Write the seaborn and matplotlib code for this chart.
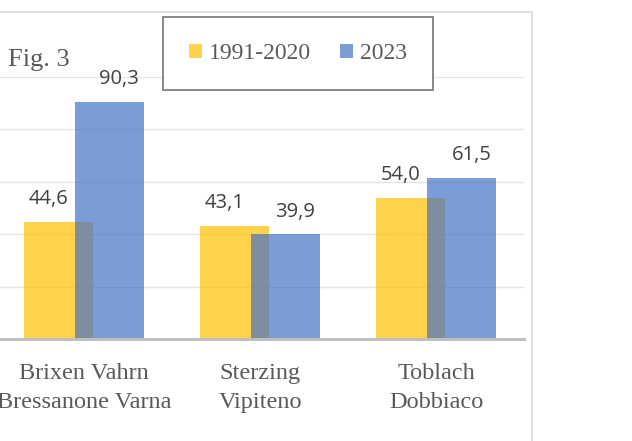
import matplotlib
matplotlib.use("Agg")
import matplotlib.pyplot as plt
from matplotlib.patches import Rectangle
import seaborn as sns
import pandas as pd

# data
stations = ["Brixen Vahrn\nBressanone Varna", "Sterzing\nVipiteno", "Toblach\nDobbiaco"]
periods = ["1991-2020", "2023"]
values_1991_2020 = [44.6, 43.1, 54.0]
values_2023 = [90.3, 39.9, 61.5]
colors = ["#FFC000", "#4472C4"]

df = pd.DataFrame({
    "station": stations * 2,
    "period": [periods[0]] * 3 + [periods[1]] * 3,
    "value": values_1991_2020 + values_2023,
})

sns.set_theme(style="white")
plt.rcParams["font.family"] = ["Liberation Serif", "DejaVu Serif"]

W, H = 632, 441
fig = plt.figure(figsize=(W / 100, H / 100), dpi=100)
ax = fig.add_axes([-4 / W, 102 / H, 528 / W, 262 / H])

sns.barplot(data=df, x="station", y="value", hue="period", palette=colors,
            saturation=1, alpha=0.7, width=0.584, linewidth=0, ax=ax)

# Excel-style overlapping bars: widen each bar around its centre
for cont in ax.containers:
    for bar in cont:
        c = bar.get_x() + bar.get_width() / 2
        bar.set_width(0.39)
        bar.set_x(c - 0.195)

# data labels (comma decimal)
for i, (cont, vals) in enumerate(zip(ax.containers, [values_1991_2020, values_2023])):
    shift = -0.055 if i == 0 else 0.055
    for bar, v in zip(cont, vals):
        x = bar.get_x() + bar.get_width() / 2 + shift
        ax.annotate(f"{v:.1f}".replace(".", ","), (x, bar.get_height()),
                    xytext=(0, 16.5), textcoords="offset points",
                    ha="center", va="center", fontsize=14.5,
                    color="#404040", family=["Open Sans", "DejaVu Sans"])

ax.set_xlim(-0.5, 2.5)
ax.set_ylim(0, 100)
ax.set_yticks([0, 20, 40, 60, 80, 100])
ax.yaxis.grid(True, color="#E4E4E4", lw=1)
ax.set_axisbelow(True)
ax.tick_params(axis="y", left=False, labelleft=False)
ax.tick_params(axis="x", length=0, pad=17, labelsize=17.5, labelcolor="#595959")
for lab in ax.get_xticklabels():
    lab.set_linespacing(1.55)
ax.set_xlabel("")
ax.set_ylabel("")
for side in ["top", "left", "right"]:
    ax.spines[side].set_visible(False)
ax.spines["bottom"].set_color("#BFBFBF")
ax.spines["bottom"].set_linewidth(2.2)

handles, labels = ax.get_legend_handles_labels()
leg = ax.legend(handles, labels, ncol=2, loc="center",
                bbox_to_anchor=(298 / W, 1 - 53.5 / H), bbox_transform=fig.transFigure,
                frameon=True, fancybox=False, edgecolor="#7F7F7F", framealpha=1,
                fontsize=17, handlelength=0.55, handleheight=0.55,
                handletextpad=0.3, columnspacing=1.2, borderpad=1.1)
leg.get_frame().set_linewidth(1.3)
for t in leg.get_texts():
    t.set_color("#595959")

fig.text(8 / W, 1 - 60 / H, "Fig. 3", fontsize=19, color="#595959", va="center")

# chart area border (cropped on the left/bottom)
fig.add_artist(Rectangle((-0.01, -0.01), 532 / W + 0.01, (H - 12) / H + 0.01,
                         transform=fig.transFigure, fill=False,
                         edgecolor="#D9D9D9", lw=1.2))

fig.savefig("out.png", dpi=100)
